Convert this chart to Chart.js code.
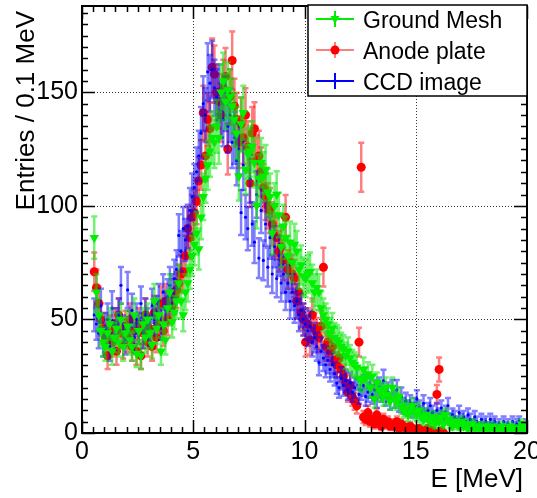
<!DOCTYPE html>
<html>
<head>
<meta charset="utf-8">
<script src="https://cdn.jsdelivr.net/npm/chart.js@4.4.1/dist/chart.umd.min.js"></script>
<style>
  html, body { margin: 0; padding: 0; background: #fff; }
  canvas { display: block; }
</style>
</head>
<body>
<canvas id="spectrum" width="537" height="498"></canvas>
<script>
// histogram binning: 0.1 MeV bins, first bin starts at 0.5 MeV
const binStart = 0.5;
const binWidth = 0.1;

const meshCounts = [
  86, 62, 52, 45, 40,
  38, 44, 48, 36, 42, 46, 40, 50, 38, 44,
  47, 41, 38, 52, 35, 45, 34, 48, 42, 50,
  44, 39, 58, 46, 52, 36, 48, 41, 55, 62,
  49, 53, 58, 66, 58, 52, 62, 66, 72, 78,
  83, 88, 81, 95, 104, 112, 118, 124, 130, 128,
  135, 130, 150, 155, 146, 151, 148, 144, 138, 132,
  113, 136, 141, 116, 123, 124, 126, 119, 100, 112,
  119, 113, 116, 106, 104, 88, 100, 105, 96, 82,
  91, 86, 78, 84, 75, 83, 80, 72, 74, 69,
  68, 70, 71, 66, 62, 64, 62, 55, 52, 50,
  48, 44, 46, 42, 41, 40, 38, 37, 34, 36,
  33, 31, 30, 29, 24, 23, 28, 24, 26, 20,
  25, 15, 22, 19, 18, 16, 20, 17, 14, 20,
  15, 14, 16, 12, 10, 11, 8, 10, 12, 9,
  8, 10, 7, 6, 8, 6, 5, 7, 4, 6,
  5, 7, 4, 8, 6, 4, 3, 5, 4, 3,
  5, 3, 4, 2, 3, 4, 2, 3, 2, 3,
  2, 3, 2, 2, 3, 2, 1, 2, 3, 2,
  2, 1, 3, 2, 2, 1, 2, 4, 2, 3
];

const anodeCounts = [
  71, 64, 57, 50, 46,
  42, 34, 45, 40, 48, 36, 52, 44, 39, 47,
  42, 50, 38, 45, 36, 48, 34, 44, 52, 40,
  46, 38, 53, 42, 48, 57, 45, 58, 50, 55,
  56, 60, 63, 66, 70, 71, 78, 90, 86, 95,
  97, 102, 111, 118, 141, 122, 138, 134, 161, 158,
  150, 146, 140, 152, 157, 125, 148, 164, 144, 138,
  128, 136, 130, 140, 126, 110, 132, 134, 120, 122,
  115, 108, 104, 100, 98, 92, 87, 86, 80, 82,
  76, 95, 72, 75, 70, 68, 58, 62, 53, 50,
  40, 48, 41, 52, 46, 44, 42, 47, 73, 38,
  40, 36, 38, 32, 30, 33, 28, 25, 22, 18,
  21, 16, 14, 12, 40, 117, 7, 6, 9, 5,
  6, 4, 8, 5, 3, 6, 4, 5, 3, 4,
  3, 5, 2, 4, 3, 2, 1, 3, 2, 1,
  1, 2, 1, 1, 0, 2, 1, 1, 0, 17,
  28, 1, 0, null, null, null, null, null, null, null,
  null, null, null, null, null, null, null, null, null, null,
  null, null, null, null, null, null, null, null, null, null,
  null, null, null, null, null, null, null, null, null, null
];

const ccdCounts = [
  52, 48, 44, 56, 40,
  46, 50, 38, 55, 43, 48, 52, 65, 45, 41,
  63, 47, 54, 42, 50, 46, 57, 44, 52, 48,
  45, 56, 50, 53, 58, 48, 62, 55, 60, 65,
  62, 68, 72, 87, 80, 90, 85, 91, 98, 104,
  108, 115, 122, 132, 145, 140, 159, 154, 160, 152,
  148, 150, 142, 138, 145, 135, 140, 128, 130, 120,
  125, 97, 118, 95, 90, 112, 92, 84, 105, 77,
  98, 76, 92, 73, 86, 70, 82, 68, 78, 66,
  70, 62, 66, 58, 62, 56, 58, 52, 54, 50,
  48, 45, 47, 40, 42, 38, 31, 36, 33, 30,
  32, 28, 30, 26, 22, 20, 24, 21, 23, 19,
  22, 18, 20, 24, 17, 19, 21, 16, 18, 20,
  17, 19, 15, 20, 18, 23, 16, 18, 14, 19,
  15, 19, 13, 16, 12, 14, 11, 13, 10, 12,
  15, 11, 9, 13, 8, 10, 12, 9, 7, 10,
  8, 11, 7, 9, 12, 6, 8, 7, 5, 9,
  6, 7, 5, 8, 6, 4, 7, 5, 3, 6,
  4, 5, 3, 6, 4, 5, 3, 4, 2, 5,
  3, 4, 2, 5, 3, 4, 5, 3, 2, 4
];

const xMajorTicks = [0, 5, 10, 15, 20];
const yMajorTicks = [0, 50, 100, 150];
const xRange = [0, 20];
const yRange = [0, 188];

const FONT = "'Liberation Sans', Arial, Helvetica, sans-serif";

function toPoints(counts) {
  const pts = [];
  counts.forEach((v, i) => {
    if (v === null) return;
    pts.push({ x: binStart + binWidth * (i + 0.5), y: v });
  });
  return pts;
}

const series = [
  { label: 'Ground Mesh', counts: meshCounts, color: '#00ee00', bar: 'rgba(0, 230, 0, 0.55)', style: 'triangle', radius: 5.5, rotation: 180, order: 0 },
  { label: 'Anode plate', counts: anodeCounts, color: '#ff0000', bar: 'rgba(255, 0, 0, 0.5)', style: 'circle', radius: 4.5, rotation: 0, order: 2 },
  { label: 'CCD image', counts: ccdCounts, color: '#0000ff', bar: 'rgba(0, 0, 255, 0.5)', style: 'circle', radius: 1.6, rotation: 0, order: 1 }
];

const errorBars = {
  id: 'errorBars',
  beforeDatasetDraw(chart, args) {
    const s = series[args.index];
    const ctx = chart.ctx;
    const xs = chart.scales.x, ys = chart.scales.y;
    const area = chart.chartArea;
    ctx.save();
    ctx.beginPath();
    ctx.rect(area.left, area.top, area.right - area.left, area.bottom - area.top);
    ctx.clip();
    ctx.strokeStyle = s.bar;
    ctx.lineWidth = 2.5;
    chart.data.datasets[args.index].data.forEach((p) => {
      const err = Math.sqrt(p.y);
      const px = xs.getPixelForValue(p.x);
      const py = ys.getPixelForValue(p.y);
      const top = ys.getPixelForValue(p.y + err);
      const bot = ys.getPixelForValue(Math.max(p.y - err, 0));
      ctx.beginPath();
      ctx.moveTo(px, top); ctx.lineTo(px, bot);
      if (err > 0) {
        ctx.moveTo(px - 3, top); ctx.lineTo(px + 3, top);
        ctx.moveTo(px - 3, bot); ctx.lineTo(px + 3, bot);
      }
      ctx.moveTo(xs.getPixelForValue(p.x - binWidth / 2), py);
      ctx.lineTo(xs.getPixelForValue(p.x + binWidth / 2), py);
      ctx.stroke();
    });
    ctx.restore();
  }
};

const rootFrame = {
  id: 'rootFrame',
  beforeDatasetsDraw(chart) {
    const ctx = chart.ctx;
    const xs = chart.scales.x, ys = chart.scales.y;
    const a = chart.chartArea;
    ctx.save();
    ctx.strokeStyle = '#333';
    ctx.lineWidth = 1;
    ctx.setLineDash([1, 2]);
    xMajorTicks.slice(1, -1).forEach((v) => {
      const x = Math.round(xs.getPixelForValue(v)) + 0.5;
      ctx.beginPath(); ctx.moveTo(x, a.top); ctx.lineTo(x, a.bottom); ctx.stroke();
    });
    yMajorTicks.slice(1).forEach((v) => {
      const y = Math.round(ys.getPixelForValue(v)) + 0.5;
      ctx.beginPath(); ctx.moveTo(a.left, y); ctx.lineTo(a.right, y); ctx.stroke();
    });
    ctx.restore();
  },
  afterDatasetsDraw(chart) {
    const ctx = chart.ctx;
    const xs = chart.scales.x, ys = chart.scales.y;
    const a = chart.chartArea;
    ctx.save();
    ctx.strokeStyle = '#000';
    ctx.lineWidth = 1.5;
    ctx.beginPath();
    for (let i = 0; i <= 40; i++) {
      const v = i * 0.5;
      const len = i % 10 === 0 ? 13 : 6;
      const x = Math.round(xs.getPixelForValue(v)) + 0.5;
      ctx.moveTo(x, a.bottom); ctx.lineTo(x, a.bottom - len);
      ctx.moveTo(x, a.top); ctx.lineTo(x, a.top + len);
    }
    for (let i = 0; i * 5 <= yRange[1]; i++) {
      const v = i * 5;
      const len = i % 10 === 0 ? 13 : 6;
      const y = Math.round(ys.getPixelForValue(v)) + 0.5;
      ctx.moveTo(a.left, y); ctx.lineTo(a.left + len, y);
      ctx.moveTo(a.right, y); ctx.lineTo(a.right - len, y);
    }
    ctx.stroke();
    ctx.lineWidth = 2;
    ctx.strokeRect(a.left, a.top, a.right - a.left, a.bottom - a.top);

    // axis titles
    ctx.fillStyle = '#000';
    ctx.font = '26px ' + FONT;
    ctx.textAlign = 'right';
    ctx.textBaseline = 'alphabetic';
    ctx.fillText('E [MeV]', 523, 487);
    ctx.save();
    ctx.translate(34, 11);
    ctx.rotate(-Math.PI / 2);
    ctx.fillText('Entries / 0.1 MeV', 0, 0);
    ctx.restore();

    // legend
    const box = { left: 308, top: 5, right: a.right, bottom: 96 };
    ctx.fillStyle = '#fff';
    ctx.fillRect(box.left, box.top, box.right - box.left, box.bottom - box.top);
    ctx.strokeStyle = '#000';
    ctx.lineWidth = 1.5;
    ctx.strokeRect(box.left, box.top, box.right - box.left, box.bottom - box.top);
    const rows = [19, 50, 81];
    series.forEach((s, i) => {
      const cy = rows[i];
      const cx = 335;
      ctx.strokeStyle = i === 1 ? s.bar : s.color;
      ctx.lineWidth = 2;
      ctx.beginPath();
      ctx.moveTo(316, cy); ctx.lineTo(354, cy);
      ctx.moveTo(cx, cy - 8); ctx.lineTo(cx, cy + 8);
      ctx.stroke();
      ctx.fillStyle = s.color;
      ctx.beginPath();
      if (s.style === 'triangle') {
        ctx.moveTo(cx - 4.5, cy - 3); ctx.lineTo(cx + 4.5, cy - 3); ctx.lineTo(cx, cy + 5);
      } else {
        ctx.arc(cx, cy, s.radius, 0, Math.PI * 2);
      }
      ctx.fill();
      ctx.fillStyle = '#000';
      ctx.font = '23px ' + FONT;
      ctx.textAlign = 'left';
      ctx.fillText(s.label, 363, cy + 9);
    });
    ctx.restore();
  }
};

new Chart(document.getElementById('spectrum'), {
  type: 'scatter',
  data: {
    datasets: series.map((s) => ({
      label: s.label,
      data: toPoints(s.counts),
      order: s.order,
      showLine: false,
      pointStyle: s.style,
      pointRadius: s.radius,
      pointRotation: s.rotation,
      pointBackgroundColor: s.color,
      pointBorderColor: s.color,
      pointBorderWidth: 0,
      pointHoverRadius: s.radius
    }))
  },
  options: {
    responsive: false,
    animation: false,
    events: [],
    layout: { padding: { top: 6, right: 10, left: 0, bottom: 0 } },
    plugins: { legend: { display: false }, tooltip: { enabled: false } },
    scales: {
      x: {
        type: 'linear',
        min: xRange[0],
        max: xRange[1],
        grid: { display: false, drawTicks: false },
        border: { display: false },
        ticks: {
          stepSize: 5,
          includeBounds: false,
          maxRotation: 0,
          padding: 4,
          color: '#000',
          font: { family: FONT, size: 25 },
          callback: (v) => (xMajorTicks.includes(v) ? String(v) : '')
        },
        afterFit: (s) => { s.height = 65; s.paddingLeft = 0; s.paddingRight = 0; }
      },
      y: {
        min: yRange[0],
        max: yRange[1],
        grid: { display: false, drawTicks: false },
        border: { display: false },
        ticks: {
          stepSize: 50,
          includeBounds: false,
          padding: 4,
          color: '#000',
          font: { family: FONT, size: 25 },
          callback: (v) => (yMajorTicks.includes(v) ? String(v) : '')
        },
        afterFit: (s) => { s.width = 82; s.paddingTop = 0; s.paddingBottom = 0; }
      }
    }
  },
  plugins: [errorBars, rootFrame]
});
</script>
</body>
</html>
